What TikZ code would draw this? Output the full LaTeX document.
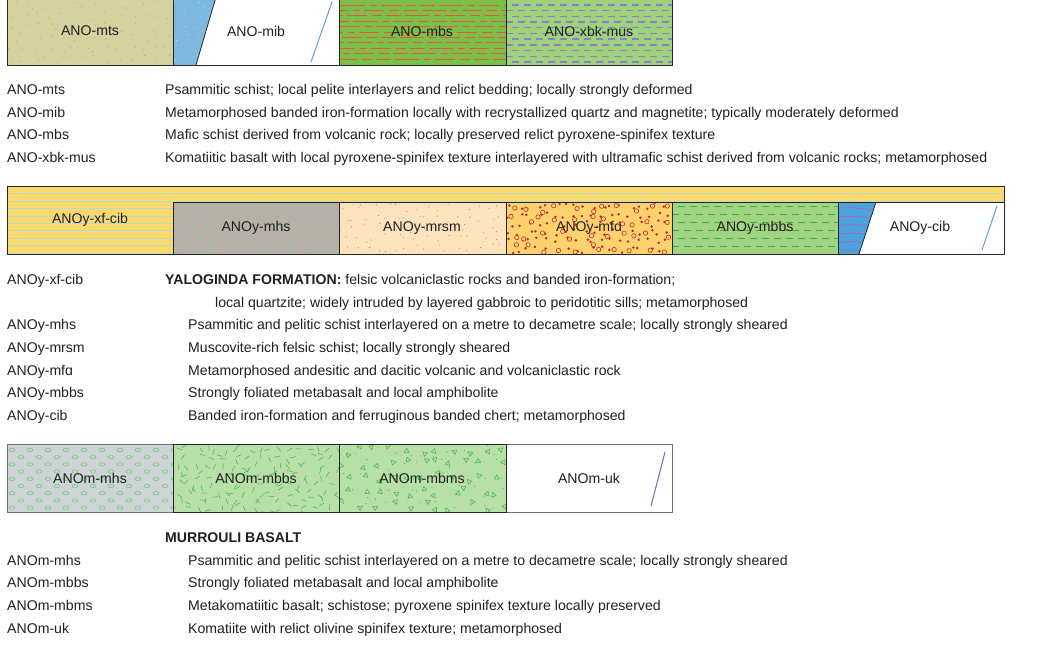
\documentclass[tikz,border=0pt]{standalone}
\usepackage{fontspec}
\setmainfont{Liberation Sans}
\definecolor{textc}{RGB}{35,31,32}
\definecolor{mtsfill}{RGB}{214,210,160}
\definecolor{mtsdot}{RGB}{178,180,128}
\definecolor{mibblue}{RGB}{125,184,225}
\definecolor{mibdot}{RGB}{200,225,190}
\definecolor{mbsgreen}{RGB}{122,192,72}
\definecolor{mbsred}{RGB}{235,85,70}
\definecolor{xbkgreen}{RGB}{160,210,125}
\definecolor{xbkpurple}{RGB}{140,128,205}
\definecolor{mibline}{RGB}{90,160,220}
\definecolor{xfyellow}{RGB}{252,217,110}
\definecolor{xfline}{RGB}{185,218,195}
\definecolor{mhsgray}{RGB}{183,175,170}
\definecolor{mhsgreen}{RGB}{150,205,130}
\definecolor{mrsmpeach}{RGB}{253,226,190}
\definecolor{mrsmred}{RGB}{228,100,90}
\definecolor{mfayellow}{RGB}{252,210,110}
\definecolor{mfared}{RGB}{200,30,40}
\definecolor{mbbsgreen}{RGB}{160,212,130}
\definecolor{mbbsdash}{RGB}{60,175,70}
\definecolor{cibblue}{RGB}{75,163,219}
\definecolor{cibmag}{RGB}{195,85,175}
\definecolor{mhsblue}{RGB}{205,213,214}
\definecolor{mgreen}{RGB}{182,224,166}
\definecolor{mstroke}{RGB}{70,180,80}
\definecolor{ellgreen}{RGB}{120,200,130}
\definecolor{ukpurple}{RGB}{120,105,190}
\begin{document}
\begin{tikzpicture}[x=1pt,y=-1pt,
  every node/.style={text=textc, font=\fontsize{14.1}{17}\selectfont},
  lbl/.style={anchor=center, inner sep=0pt},
  key/.style={anchor=base west, inner sep=0pt},
  boxline/.style={draw=black!85, line width=0.9pt},
  frameline/.style={draw=black!55, line width=0.9pt}]
\useasboundingbox (0,0) rectangle (1048,647);
\pgfmathsetseed{4711}

% ================= SECTION 1 =================
% ANO-mts
\fill[mtsfill] (7,-3) rectangle (173,65);
\foreach \i in {0,...,13}{\foreach \j in {0,...,5}{
  \pgfmathsetmacro\xx{7+(\i+0.5+0.4*rand)*11.86}
  \pgfmathsetmacro\yy{(\j+0.5+0.4*rand)*10.8}
  \fill[mtsdot] (\xx,\yy) circle (0.7);}}
% ANO-mib
\fill[white] (173,-3) rectangle (339,65);
\fill[mibblue] (173,-3) -- (216,-3) -- (196,65) -- (173,65) -- cycle;
\begin{scope}
\clip (173,-3) -- (216,-3) -- (196,65) -- (173,65) -- cycle;
\foreach \i in {0,...,3}{\foreach \j in {0,...,5}{
  \pgfmathsetmacro\xx{173+(\i+0.5+0.4*rand)*10}
  \pgfmathsetmacro\yy{(\j+0.5+0.4*rand)*10.8}
  \fill[mibdot] (\xx,\yy) circle (0.6);}}
\end{scope}
\draw[black!85, line width=0.8pt] (216,-3) -- (196,65);
\coordinate (mibA) at (332,2);
\coordinate (mibB) at (311,62);
\draw[mibline, line width=1pt] (mibA) -- (mibB);
% ANO-mbs
\fill[mbsgreen] (339,-3) rectangle (506,65);
\begin{scope}
\clip (339,-3) rectangle (506,65);
\foreach \r [count=\c] in {5,10.4,...,64}{
  \pgfmathsetmacro\ph{mod(\c*17,63)}
  \draw[mbsred, line width=0.8pt, dash pattern=on 15pt off 4pt on 24pt off 5pt on 7pt off 4pt on 20pt off 5pt on 10pt off 4pt, dash phase=\ph pt] (339,\r) -- (506,\r);}
\end{scope}
% ANO-xbk-mus
\fill[xbkgreen] (506,-3) rectangle (672,65);
\begin{scope}
\clip (506,-3) rectangle (672,65);
\foreach \r [count=\c] in {5,10.7,...,64}{
  \pgfmathsetmacro\ph{mod(\c,2)*6}
  \draw[xbkpurple, line width=1.4pt, dash pattern=on 7pt off 5pt, dash phase=\ph pt] (506,\r) -- (672,\r);}
\end{scope}
% borders
\draw[boxline] (7,-3) rectangle (672,65);
\draw[boxline] (173,-3) -- (173,65) (339,-3) -- (339,65) (506,-3) -- (506,65);
\node[lbl] (b-mts) at (90,31) {ANO-mts};
\node[lbl] (b-mib) at (256,31) {ANO-mib};
\node[lbl] (b-mbs) at (422,31) {ANO-mbs};
\node[lbl] (b-xbk) at (589,31) {ANO-xbk-mus};

% legend 1
\node[key] (k1) at (7,95) {ANO-mts};
\node[key] (d1) at (165,95) {Psammitic schist; local pelite interlayers and relict bedding; locally strongly deformed};
\node[key] (k2) at (7,118) {ANO-mib};
\node[key] (d2) at (165,118) {Metamorphosed banded iron-formation locally with recrystallized quartz and magnetite; typically moderately deformed};
\node[key] (k3) at (7,140) {ANO-mbs};
\node[key] (d3) at (165,140) {Mafic schist derived from volcanic rock; locally preserved relict pyroxene-spinifex texture};
\node[key] (k4) at (7,163) {ANO-xbk-mus};
\node[key] (d4) at (165,163) {Komatiitic basalt with local pyroxene-spinifex texture interlayered with ultramafic schist derived from volcanic rocks; metamorphosed};

% ================= SECTION 2 =================
\fill[xfyellow] (7,186) -- (1004,186) -- (1004,202) -- (173,202) -- (173,254) -- (7,254) -- cycle;
\begin{scope}
\clip (7,186) -- (1004,186) -- (1004,202) -- (173,202) -- (173,254) -- (7,254) -- cycle;
\foreach \r in {193.6,201,...,254}{
  \draw[xfline, line width=0.6pt] (7,\r) -- (1004,\r);}
\end{scope}
% ANOy-mhs
\fill[mhsgray] (173,202) rectangle (339,254);
\foreach \i in {0,...,15}{\foreach \j in {0,...,4}{
  \pgfmathsetmacro\xx{173+(\i+0.5+0.4*rand)*10.4}
  \pgfmathsetmacro\yy{202+(\j+0.5+0.4*rand)*10.4}
  \draw[mhsgreen, line width=0.45pt] (\xx,\yy) circle (1.6);
  \pgfmathsetmacro\xa{173+(\i+0.5+0.45*rand)*10.4}
  \pgfmathsetmacro\ya{202+(\j+0.5+0.45*rand)*10.4}
  \fill[mhsgreen] (\xa,\ya) circle (0.55);}}
% ANOy-mrsm
\fill[mrsmpeach] (339,202) rectangle (506,254);
\foreach \i in {0,...,15}{\foreach \j in {0,...,4}{
  \pgfmathsetmacro\xx{339+(\i+0.5+0.45*rand)*10.4}
  \pgfmathsetmacro\yy{202+(\j+0.5+0.45*rand)*10.4}
  \fill[mrsmred] (\xx,\yy) circle (0.55);}}
% ANOy-mfa
\fill[mfayellow] (506,202) rectangle (672,254);
\begin{scope}
\clip (506,202) rectangle (672,254);
\foreach \i in {0,...,17}{\foreach \j in {0,...,5}{
  \pgfmathsetmacro\xx{506+(\i+0.5+0.4*rand)*9.22}
  \pgfmathsetmacro\yy{202+(\j+0.5+0.4*rand)*8.67}
  \fill[mfared] (\xx,\yy) circle (1.35);}}
\foreach \i in {0,...,10}{\foreach \j in {0,...,3}{
  \pgfmathsetmacro\xx{506+(\i+0.5+0.4*rand)*15.1}
  \pgfmathsetmacro\yy{202+(\j+0.5+0.4*rand)*13}
  \draw[mfared, line width=0.55pt, fill=mfayellow] (\xx,\yy) circle (2.2);}}
\end{scope}
% ANOy-mbbs
\fill[mbbsgreen] (672,202) rectangle (838,254);
\begin{scope}
\clip (672,202) rectangle (838,254);
\foreach \r [count=\c] in {206.5,214.5,...,254}{
  \pgfmathsetmacro\ph{mod(\c,2)*6}
  \draw[mbbsdash, line width=0.7pt, dash pattern=on 7pt off 5pt, dash phase=\ph pt] (672,\r) -- (838,\r);}
\end{scope}
% ANOy-cib
\fill[white] (838,202) rectangle (1004,254);
\fill[cibblue] (838,202) -- (876,202) -- (859,254) -- (838,254) -- cycle;
\begin{scope}
\clip (838,202) -- (876,202) -- (859,254) -- (838,254) -- cycle;
\foreach \r in {200,208.5,...,256}{
  \draw[cibmag, line width=0.6pt] (838,\r) .. controls (852,\r-2) and (866,\r) .. (880,\r+3);}
\end{scope}
\draw[black!85, line width=0.8pt] (876,202) -- (859,254);
\coordinate (cibA) at (997,206);
\coordinate (cibB) at (982,250);
\draw[mibline, line width=1pt] (cibA) -- (cibB);
% borders
\draw[boxline] (7,186) rectangle (1004,254);
\draw[boxline] (173,202) -- (1004,202);
\draw[boxline] (173,202) -- (173,254) (339,202) -- (339,254) (506,202) -- (506,254) (672,202) -- (672,254) (838,202) -- (838,254);
\node[lbl] (b-xf) at (90,220) {ANOy-xf-cib};
\node[lbl] (b-ymhs) at (256,228) {ANOy-mhs};
\node[lbl] (b-mrsm) at (422,228) {ANOy-mrsm};
\node[lbl] (b-mfa) at (589,228) {ANOy-mf\char"0251};
\node[lbl] (b-ymbbs) at (755,228) {ANOy-mbbs};
\node[lbl] (b-cib) at (920,228) {ANOy-cib};

% legend 2
\node[key] (k5) at (7,284) {ANOy-xf-cib};
\node[key] (d5) at (165,284) {\textbf{YALOGINDA FORMATION:} felsic volcaniclastic rocks and banded iron-formation;};
\node[key] (d5b) at (215,307) {local quartzite; widely intruded by layered gabbroic to peridotitic sills; metamorphosed};
\node[key] (k6) at (7,329) {ANOy-mhs};
\node[key] (d6) at (188,329) {Psammitic and pelitic schist interlayered on a metre to decametre scale; locally strongly sheared};
\node[key] (k7) at (7,352) {ANOy-mrsm};
\node[key] (d7) at (188,352) {Muscovite-rich felsic schist; locally strongly sheared};
\node[key] (k8) at (7,375) {ANOy-mf\char"0251};
\node[key] (d8) at (188,375) {Metamorphosed andesitic and dacitic volcanic and volcaniclastic rock};
\node[key] (k9) at (7,397) {ANOy-mbbs};
\node[key] (d9) at (188,397) {Strongly foliated metabasalt and local amphibolite};
\node[key] (k10) at (7,420) {ANOy-cib};
\node[key] (d10) at (188,420) {Banded iron-formation and ferruginous banded chert; metamorphosed};

% ================= SECTION 3 =================
% ANOm-mhs
\fill[mhsblue] (7,444) rectangle (173,512);
\begin{scope}
\clip (7,444) rectangle (173,512);
\foreach \j in {0,...,9}{
  \pgfmathsetmacro\off{mod(\j,2)*9}
  \foreach \i in {0,...,9}{
    \draw[ellgreen, line width=0.6pt] (7+\off+\i*18+5,450+\j*7.2) ellipse (2.9 and 1.7);}}
\end{scope}
% ANOm-mbbs
\fill[mgreen] (173,444) rectangle (339,512);
\begin{scope}
\clip (173,444) rectangle (339,512);
\foreach \i in {0,...,17}{\foreach \j in {0,...,7}{
  \pgfmathsetmacro\xx{173+(\i+0.5+0.45*rand)*9.3}
  \pgfmathsetmacro\yy{444+(\j+0.5+0.45*rand)*8.5}
  \pgfmathsetmacro\ang{rnd*180}
  \draw[mstroke, line width=0.55pt] (\xx,\yy) -- ++(\ang:5.5);}}
\end{scope}
% ANOm-mbms
\fill[mgreen] (339,444) rectangle (506,512);
\begin{scope}
\clip (339,444) rectangle (506,512);
\foreach \i in {0,...,10}{\foreach \j in {0,...,4}{
  \pgfmathsetmacro\xx{339+(\i+0.5+0.4*rand)*15.2}
  \pgfmathsetmacro\yy{444+(\j+0.5+0.4*rand)*13.6}
  \pgfmathsetmacro\ang{rnd*360}
  \draw[mstroke, line width=0.55pt, rotate around={\ang:(\xx,\yy)}] (\xx,\yy-2.8) -- (\xx+2.4,\yy+1.4) -- (\xx-2.4,\yy+1.4) -- cycle;
  \pgfmathsetmacro\xa{339+(\i+0.5+0.45*rand)*15.2}
  \pgfmathsetmacro\ya{444+(\j+0.5+0.45*rand)*13.6}
  \fill[mstroke] (\xa,\ya) circle (0.6);}}
\end{scope}
% ANOm-uk
\fill[white] (506,444) rectangle (672,512);
\coordinate (ukA) at (665,452);
\coordinate (ukB) at (651,506);
\draw[ukpurple, line width=1pt] (ukA) -- (ukB);
% borders
\draw[frameline] (7,444) rectangle (672,512);
\draw[boxline] (173,444) rectangle (506,512);
\draw[boxline] (339,444) -- (339,512);
\node[lbl] (b-mmhs) at (90,478) {ANOm-mhs};
\node[lbl] (b-mmbbs) at (256,478) {ANOm-mbbs};
\node[lbl] (b-mmbms) at (422,478) {ANOm-mbms};
\node[lbl] (b-uk) at (589,478) {ANOm-uk};

% legend 3
\node[key] (h3) at (165,542) {\textbf{MURROULI BASALT}};
\node[key] (k11) at (7,565) {ANOm-mhs};
\node[key] (d11) at (188,565) {Psammitic and pelitic schist interlayered on a metre to decametre scale; locally strongly sheared};
\node[key] (k12) at (7,587) {ANOm-mbbs};
\node[key] (d12) at (188,587) {Strongly foliated metabasalt and local amphibolite};
\node[key] (k13) at (7,610) {ANOm-mbms};
\node[key] (d13) at (188,610) {Metakomatiitic basalt; schistose; pyroxene spinifex texture locally preserved};
\node[key] (k14) at (7,633) {ANOm-uk};
\node[key] (d14) at (188,633) {Komatiite with relict olivine spinifex texture; metamorphosed};
\end{tikzpicture}
\end{document}
